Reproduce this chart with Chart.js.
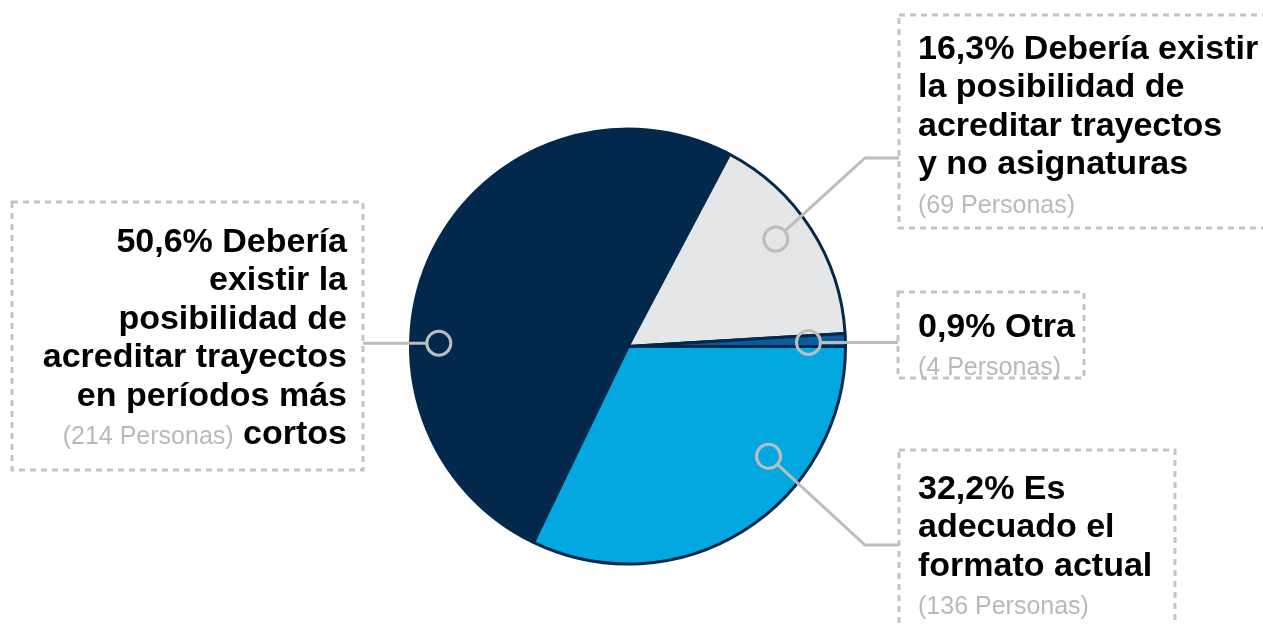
<!DOCTYPE html>
<html>
<head>
<meta charset="utf-8">
<script src="https://cdn.jsdelivr.net/npm/chart.js@4.4.1/dist/chart.umd.min.js"></script>
<style>
  html, body { margin: 0; padding: 0; background: #ffffff; overflow: hidden; }
  #wrap { position: relative; width: 1263px; height: 624px; }
  canvas { position: absolute; left: 0; top: 0; }
  .lbl { position: absolute; font-family: "Liberation Sans", Arial, sans-serif; font-weight: bold;
         font-size: 34px; line-height: 38.4px; color: #000; white-space: nowrap; }
  .lbl .g { font-weight: normal; font-size: 25px; color: #b9b9b9; }
</style>
</head>
<body>
<div id="wrap">
  <canvas id="c" width="1263" height="624"></canvas>
</div>
<script>
// ---- data (clockwise from 3 o'clock) ----
const categories = [
  "Es adecuado el formato actual",
  "Debería existir la posibilidad de acreditar trayectos en períodos más cortos",
  "Debería existir la posibilidad de acreditar trayectos y no asignaturas",
  "Otra"
];
const personas = [136, 214, 69, 4];
const percentLabels = ["32,2%", "50,6%", "16,3%", "0,9%"];
const labelLines = [
  ["32,2% Es", "adecuado el", "formato actual"],
  ["50,6% Debería", "existir la", "posibilidad de", "acreditar trayectos", "en períodos más", "cortos"],
  ["16,3% Debería existir", "la posibilidad de", "acreditar trayectos", "y no asignaturas"],
  ["0,9% Otra"]
];
const sliceColors = ["#04a8e0", "#02284b", "#e5e6e7", "#0b5c9e"];

// ---- layout (annotation positions only) ----
const boxes = [
  { x: 899, y: 450, w: 276, h: 190, textLeft: 918, textTop: 468, align: "left" },
  { x: 12,  y: 202, w: 351, h: 268, textRight: 347, textTop: 221, align: "right" },
  { x: 899, y: 15,  w: 380, h: 213, textLeft: 918, textTop: 28, align: "left" },
  { x: 898, y: 292, w: 186, h: 86,  textLeft: 918, textTop: 306, align: "left" }
];
// anchor: angle (deg, clockwise from 3 o'clock), fraction of radius; path to box edge
const anchors = [
  { ang: 38,   frac: 0.82, elbow: [865, 545], end: [899, 545] },
  { ang: 181,  frac: 0.87, elbow: null,       end: [363, null] },
  { ang: -36,  frac: 0.84, elbow: [865, 158], end: [899, 158] },
  { ang: -1.3, frac: 0.83, elbow: null,       end: [898, null] }
];

const annotPlugin = {
  id: 'annot',
  afterDraw(chart) {
    const ctx = chart.ctx;
    const arc = chart.getDatasetMeta(0).data[0];
    const cx = arc.x, cy = arc.y, R = arc.outerRadius;
    ctx.save();
    // dashed boxes
    ctx.strokeStyle = '#c4c4c4';
    ctx.lineWidth = 3;
    ctx.setLineDash([6, 5]);
    boxes.forEach(b => { ctx.strokeRect(b.x, b.y, b.w, b.h); });
    ctx.setLineDash([]);
    // leader lines + circles
    ctx.strokeStyle = '#bdbdbd';
    ctx.lineWidth = 3;
    anchors.forEach(a => {
      const t = a.ang * Math.PI / 180;
      const px = cx + Math.cos(t) * R * a.frac;
      const py = cy + Math.sin(t) * R * a.frac;
      const r = 12;
      let pts = [];
      if (a.elbow) pts.push(a.elbow);
      pts.push([a.end[0], a.end[1] === null ? py : a.end[1]]);
      const first = pts[0];
      const dx = first[0] - px, dy = first[1] - py, d = Math.hypot(dx, dy);
      ctx.beginPath();
      ctx.moveTo(px + dx / d * r, py + dy / d * r);
      pts.forEach(p => ctx.lineTo(p[0], p[1]));
      ctx.stroke();
      ctx.beginPath();
      ctx.arc(px, py, r, 0, Math.PI * 2);
      ctx.stroke();
    });
    ctx.restore();
  }
};

new Chart(document.getElementById('c'), {
  type: 'pie',
  data: {
    labels: categories,
    datasets: [{
      data: personas,
      backgroundColor: sliceColors,
      borderColor: '#02284b',
      borderWidth: 3
    }]
  },
  options: {
    responsive: false,
    devicePixelRatio: 1,
    animation: false,
    rotation: 90,
    layout: { padding: { left: 409, right: 416, top: 127, bottom: 58 } },
    plugins: { legend: { display: false }, tooltip: { enabled: false } }
  },
  plugins: [annotPlugin]
});

// ---- HTML text labels ----
const wrap = document.getElementById('wrap');
labelLines.forEach((lines, i) => {
  const b = boxes[i];
  const div = document.createElement('div');
  div.className = 'lbl';
  div.style.top = b.textTop + 'px';
  div.style.textAlign = b.align;
  if (b.align === 'right') { div.style.right = (1263 - b.textRight) + 'px'; }
  else { div.style.left = b.textLeft + 'px'; }
  const gray = '<span class="g">(' + personas[i] + ' Personas)</span>';
  let html;
  if (b.align === 'right') {
    html = lines.slice(0, -1).join('<br>') + '<br>' + gray + ' ' + lines[lines.length - 1];
  } else {
    html = lines.join('<br>') + '<br>' + gray;
  }
  div.innerHTML = html;
  wrap.appendChild(div);
});
</script>
</body>
</html>
